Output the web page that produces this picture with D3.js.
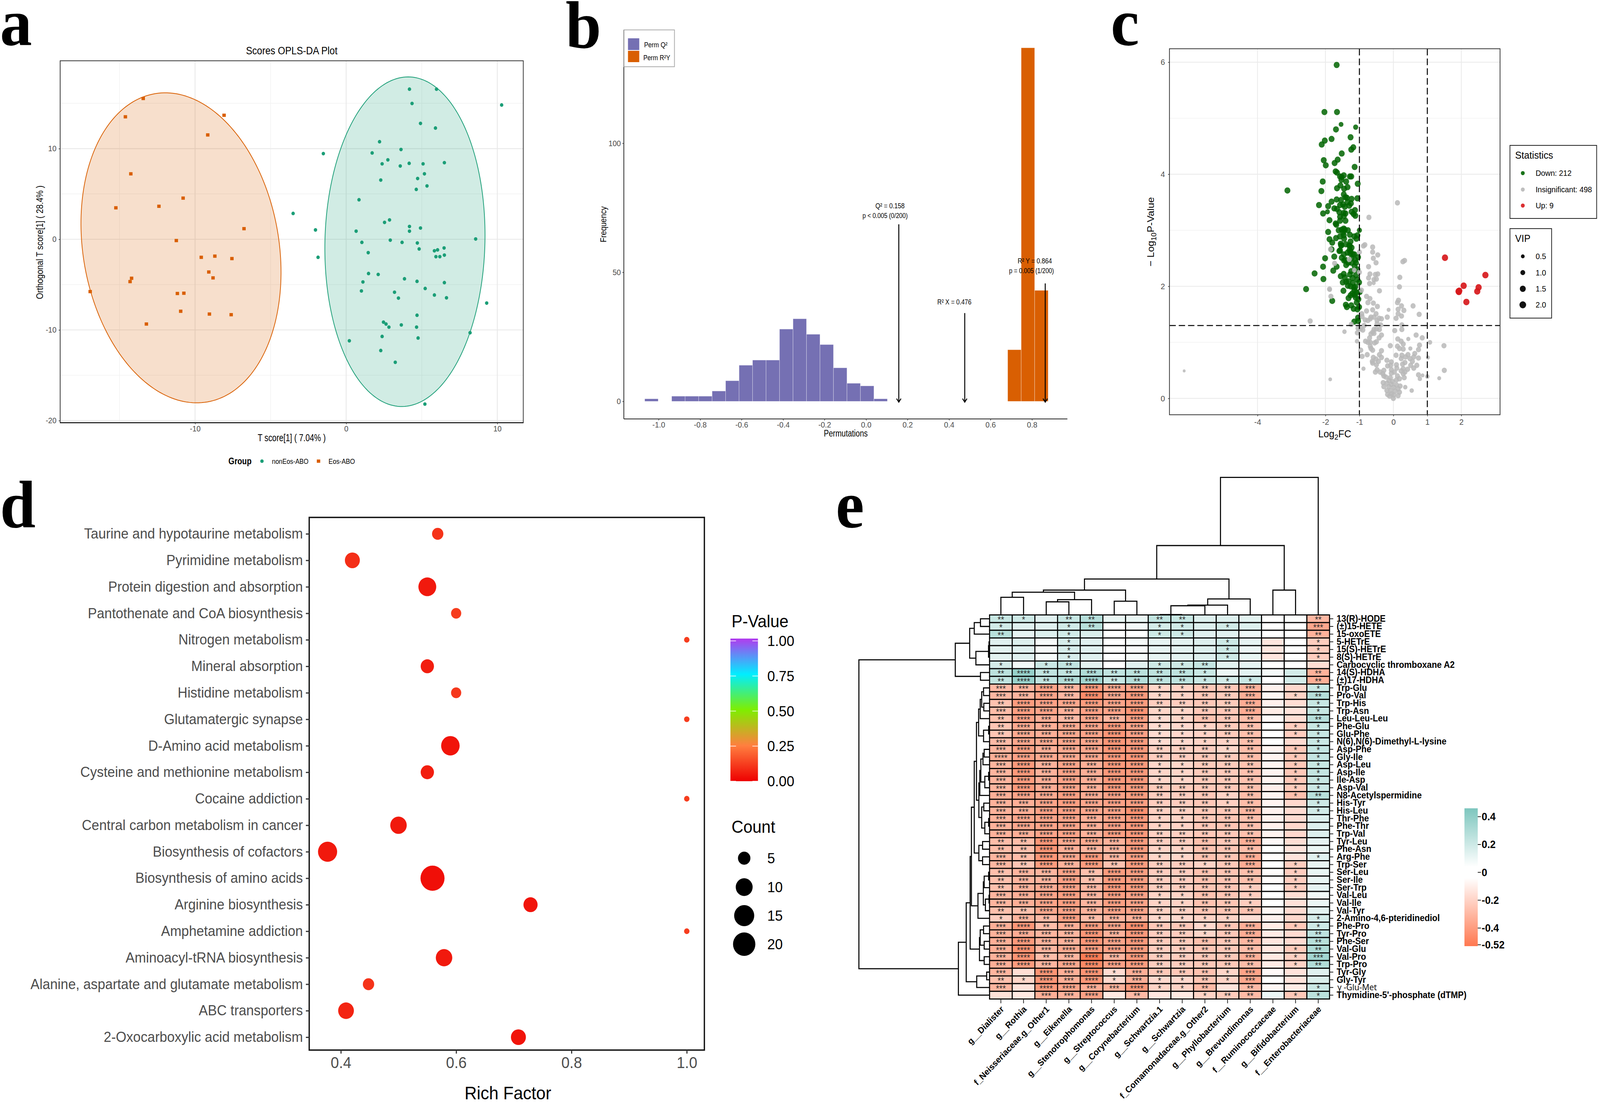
<!DOCTYPE html>
<html><head><meta charset="utf-8">
<script src="https://cdn.jsdelivr.net/npm/d3@7"></script>
<style>html,body{margin:0;padding:0;background:#fff;width:100%;height:100%;overflow:hidden}svg{display:block;width:100vw;height:100vh;font-family:"Liberation Sans",Arial,sans-serif}</style>
</head><body><svg id="fig" viewBox="0 0 4300 2825" preserveAspectRatio="none"></svg>
<script>
// ---------- panel a ----------
const scoresGreen=[[4.19,16.56],[5.98,16.56],[4.36,14.98],[10.29,14.81],[4.92,12.78],[5.91,12.27],[2.21,10.76],[3.63,9.9],[-1.51,9.45],[1.72,9.52],[2.76,8.76],[2.38,8.32],[3.58,8.08],[4.17,8.38],[5.09,8.32],[6.5,8.45],[5.18,7.22],[4.73,6.7],[2.29,6.53],[5.35,5.88],[4.64,5.5],[0.85,4.36],[-3.51,2.85],[2.87,2.13],[2.54,1.86],[4.19,1.41],[4.92,1.24],[-2.03,1.03],[0.66,0.89],[4.19,0.89],[8.57,0.03],[1.04,-0.34],[2.92,-0.1],[3.7,-0.34],[4.71,-0.41],[4.83,-1.07],[6.48,-0.96],[6.05,-1.17],[5.84,-1.27],[1.46,-1.48],[5.94,-1.92],[6.2,-1.92],[6.5,-1.75],[-1.86,-1.99],[1.48,-3.78],[2.12,-3.88],[3.86,-4.36],[4.69,-4.64],[1.11,-4.71],[6.5,-4.78],[5.23,-5.43],[1.01,-5.7],[3.2,-5.84],[5.84,-6.15],[3.46,-6.49],[6.64,-6.46],[9.3,-7.04],[4.69,-8.38],[2.47,-9.14],[2.64,-9.35],[3.65,-9.45],[2.83,-9.69],[4.66,-9.69],[8.2,-10.31],[2.38,-10.72],[4.76,-10.89],[0.21,-11.2],[2.29,-12.27],[3.25,-13.57],[5.21,-18.18]];
const scoresOrange=[[-13.43,15.53],[-14.61,13.51],[-8.08,13.68],[-9.16,11.51],[-14.25,7.22],[-10.79,4.54],[-12.39,3.64],[-15.24,3.47],[-6.76,1.17],[-11.24,-0.14],[-9.59,-1.99],[-8.69,-1.86],[-7.56,-2.13],[-9.09,-3.61],[-14.2,-4.3],[-8.81,-4.26],[-14.3,-4.67],[-16.94,-5.77],[-11.17,-5.98],[-10.74,-5.95],[-10.95,-7.94],[-9.05,-8.25],[-7.61,-8.32],[-13.22,-9.35]];
const ellipseOrange={cx:-10.93,cy:-0.945,rx:6.62,ry:17.1,rho:-0.157};
const ellipseGreen={cx:3.89,cy:-0.27,rx:5.3,ry:18.18,rho:0.04};
// ---------- panel b ----------
const permQ2Counts=[1,0,2,2,2,4,8,14,16,16,28,32,26,22,13,7,6,1];
const permQ2Start=-1.067;
const permR2Counts=[20,137,43];
const permR2Start=0.683;
const permBinWidth=0.065;
const permArrows=[{x:0.158,top:68.6},{x:0.476,top:34.2},{x:0.864,top:45.7}];
// ---------- panel c ----------
const volcanoDown=[[-1.67,5.95],[-2.03,5.11],[-1.66,5.11],[-1.54,4.89,.95],[-1.11,4.84,1.1],[-1.69,4.8],[-1.26,4.66],[-2.02,4.6],[-1.82,4.63],[-2.11,4.53],[-1.18,4.48],[-1.24,4.44],[-1.52,4.37],[-1.64,4.26],[-1.73,4.2],[-2.05,4.25],[-1.99,4.16],[-1.14,4.13],[-1.7,4.05],[-1.66,4.03],[-1.57,3.96],[-1.46,3.98],[-1.52,3.95],[-1.28,3.96],[-1.24,3.96],[-2.08,3.87],[-1.39,3.87],[-1.53,3.9],[-1.05,3.83],[-1.56,3.8],[-1.35,3.77],[-1.66,3.75],[-1.45,3.74],[-3.12,3.71],[-2.12,3.7],[-1.46,3.64],[-1.41,3.59],[-1.37,3.58],[-1.67,3.55],[-1.54,3.54],[-1.23,3.56],[-1.06,3.57],[-1.82,3.51],[-1.35,3.5],[-1.25,3.48],[-2.19,3.45],[-1.92,3.43],[-1.57,3.45],[-1.48,3.46],[-1.43,3.42],[-1.3,3.44],[-1.74,3.39],[-1.66,3.38],[-1.13,3.36],[-1.23,3.33],[-1.94,3.33,1],[-2.07,3.3],[-1.59,3.32],[-1.41,3.3],[-1.46,3.31],[-1.17,3.29],[-1.12,3.26],[-1.88,3.18],[-1.57,3.24],[-1.46,3.25],[-1.7,3.12],[-1.68,3.1],[-1.57,3.17],[-1.41,3.17],[-1,3,1.1],[-1.92,2.97],[-1.46,3.03],[-1.61,3],[-1.52,3.01],[-1.43,3.01],[-1.34,3],[-1.48,2.96],[-1.57,2.89],[-1.46,2.91],[-1.28,2.92],[-1.15,2.89],[-1.06,2.91],[-1.09,2.85],[-1.88,2.84],[-1.69,2.86],[-1.45,2.85],[-1.8,2.78],[-1.26,2.8],[-1.55,2.76],[-1.53,2.73],[-1.3,2.73],[-1.23,2.69],[-1.82,2.66],[-1.29,2.65],[-1.57,2.64],[-1.27,2.59],[-2.01,2.5],[-1.74,2.53],[-1.46,2.57],[-1.19,2.57],[-1.59,2.63],[-1.54,2.73],[-1.28,2.72],[-1.26,2.63],[-1.15,2.57],[-1.52,2.51],[-1.41,2.47],[-1.23,2.5],[-1.12,2.47],[-1.04,2.52],[-1.1,2.42],[-1.39,2.38],[-1.14,2.36],[-1.67,2.35],[-2.07,2.35],[-1.77,2.28],[-1.24,2.27],[-1.46,2.22],[-2.32,2.23],[-1.55,2.18],[-1.1,2.2],[-1.28,2.21],[-2.06,2.13],[-1.06,2.12],[-1.01,2.07],[-1.32,2.09],[-1.49,2.07],[-1.39,2.08],[-1.19,2.06],[-1.34,2.01],[-1.12,1.99],[-2.57,1.95],[-1.47,1.92],[-1.15,1.93],[-0.99,1.9],[-1.08,1.89],[-1.21,1.87],[-1.14,1.85],[-1.26,1.84],[-1.11,1.8],[-1.32,1.79],[-1.8,1.74],[-1.08,1.71],[-1.4,1.67],[-1.24,1.66],[-1.37,1.63],[-1.01,1.63],[-1.17,1.6],[-1.06,1.59],[-1.04,1.44],[-1.15,1.37],[-1.04,1.38],[-1.23,2.42],[-1.45,2.46],[-1.33,2.42],[-1.43,2.16],[-1.2,2.15],[-1.26,2],[-1.16,1.98],[-1.03,1.77],[-1.06,2.3],[-1.35,2.6],[-1.4,2.75]];
const volcanoInsig=[[-0.84,2.74],[-0.88,2.72],[-0.61,2.7],[-0.61,2.61],[-1,2.61],[-0.46,2.56],[-0.59,2.5],[-0.51,2.42],[-0.73,2.35],[0.33,2.46],[0.28,2.44],[-1,2.25],[-0.69,2.22],[-0.46,2.22],[-0.53,2.21],[-0.73,2.15],[-0.5,2.13],[-0.57,2.12],[0.19,2.16],[-0.7,2.05],[-0.58,2.06,.7],[0.18,1.99],[-1.88,1.95],[-0.41,1.92],[-0.94,1.93],[-1.84,1.82],[-0.79,1.82],[-0.69,1.78],[-0.75,1.71],[-0.59,1.7],[0.15,1.75],[0.12,1.71],[-0.47,1.64],[0.58,1.65],[0.24,1.65],[0.14,1.59],[0.31,1.57],[-0.14,1.58,.6],[-0.61,1.58],[-0.79,1.56],[0.76,1.5],[0.14,1.51],[0.24,1.47],[-0.51,1.51],[-0.93,1.51],[-0.92,1.46],[-0.18,1.45],[0.08,1.43],[-2.45,1.38],[-0.66,1.45],[-0.57,1.45],[-0.83,1.4],[-0.75,1.39],[-0.68,1.42],[-0.48,1.39],[-0.42,1.43],[-0.35,1.42],[-0.48,1.33],[-0.37,1.31],[-0.86,1.3],[-1.24,1.32],[0.25,1.31],[0.25,1.23],[0.04,1.21],[-1.04,1.25],[-0.9,1.22],[-0.97,1.24],[-1.44,1.19,.8],[-1.06,1.17],[-0.57,1.23],[-0.61,1.18],[-0.41,1.23],[-0.5,1.24],[-0.66,1.15],[-0.57,1.16],[-0.35,1.13],[0.67,1.13],[0.85,1.08],[-0.7,1.08],[-0.42,1.08],[0.13,1.06],[0.44,1.06,.7],[-0.5,1.01],[-0.82,1.02],[-0.75,1],[-0.68,1],[-1.07,1.02,.8],[0.23,1.02],[-0.55,0.99],[0.29,0.97],[1.08,1,.8],[-0.09,0.94],[0.77,0.95],[1.49,0.94],[0.12,0.93],[-0.68,0.93],[0.18,0.89],[0.74,0.87],[0.5,0.89,.7],[0.29,0.88],[-0.61,0.86],[-0.66,0.89],[-0.96,0.86],[-0.35,0.85],[-0.77,0.78],[-0.92,0.75],[0.63,0.8],[-0.41,0.78],[0.08,0.77],[0.25,0.77],[0.43,0.78],[0.36,0.74],[1.02,0.73,.6],[-0.59,0.73],[0.74,0.72],[0.23,0.71],[0.6,0.74],[0.49,0.71],[-0.51,0.7],[-0.35,0.73],[-0.62,0.66],[-0.44,0.66],[-0.19,0.68],[-0.06,0.65],[-0.61,0.63],[0.56,0.66],[0.34,0.64],[0.27,0.61],[-0.5,0.6],[0.09,0.6],[0.51,0.59],[0.69,0.59],[-0.17,0.58],[-0.08,0.59],[0.6,0.54],[0.1,0.54],[-0.88,0.53,.7],[-0.48,0.51],[-0.28,0.5],[0.42,0.52],[0.29,0.53],[-0.53,0.47],[-0.39,0.47],[-0.06,0.51],[0.23,0.49],[0.34,0.47],[0.03,0.47],[0.74,0.42],[0.86,0.41,.5],[-0.06,0.45],[-0.31,0.44],[0.29,0.44],[1,0.39,.8],[1.35,0.36,.6],[1.5,0.5],[0.78,0.35,.8],[-1.86,0.34,.5],[-0.28,0.4],[-0.22,0.38],[0.32,0.37],[0.12,0.4],[0.09,0.33],[0.18,0.35],[-0.09,0.37],[-0.3,0.28],[-0.13,0.32],[-0.02,0.3],[-0.19,0.27],[-0.28,0.21],[0.2,0.22],[0.09,0.24],[-0.06,0.25],[0.35,0.2,.8],[0.54,0.14,.8],[-0.13,0.21],[0.01,0.2],[0.14,0.17],[-0.19,0.14],[-0.08,0.14],[0.05,0.13],[0.18,0.11],[-0.17,0.07],[-0.06,0.08],[0.01,0.06],[0.14,0.05],[0,0],[-0.11,0.04],[-6.16,0.49,.1],[0.12,3.49],[-0.72,3.23],[-1.85,2.66],[-1.73,2.41],[-1.3,2.48],[-1.15,2.29,.9],[-1.87,1.94,.7]];
const volcanoUp=[[1.52,2.51],[2.71,2.2],[2.07,2.01],[2.51,1.98],[2.47,1.91],[1.92,1.91],[1.94,1.92],[1.93,1.9],[2.15,1.72]];
const vipLevels=[0.5,1,1.5,2];
const statLabels=["Down: 212","Insignificant: 498","Up: 9"];
// ---------- panel d ----------
const pathways=["Taurine and hypotaurine metabolism","Pyrimidine metabolism","Protein digestion and absorption","Pantothenate and CoA biosynthesis","Nitrogen metabolism","Mineral absorption","Histidine metabolism","Glutamatergic synapse","D-Amino acid metabolism","Cysteine and methionine metabolism","Cocaine addiction","Central carbon metabolism in cancer","Biosynthesis of cofactors","Biosynthesis of amino acids","Arginine biosynthesis","Amphetamine addiction","Aminoacyl-tRNA biosynthesis","Alanine, aspartate and glutamate metabolism","ABC transporters","2-Oxocarboxylic acid metabolism"];
const richFactor=[.568,.42,.55,.6,1,.55,.6,1,.59,.55,1,.5,.377,.559,.729,1,.579,.448,.409,.708];
const pathCount=[5,9,13,4,1,7,4,1,14,7,1,11,15,24,8,1,11,5,10,9];
const pathP=[.10,.09,.05,.12,.12,.06,.11,.12,.04,.06,.12,.05,.05,.03,.04,.12,.05,.10,.07,.04];
const countLevels=[5,10,15,20];
const pTicks=[0,.25,.5,.75,1];
const pColors=["#EE0000","#FF7F3F","#7FEE00","#00EEFF","#B23AEE"];
// ---------- panel e ----------
const microbes=["g__Dialister","g__Rothia","f_Neisseriaceae.g_Other1","g__Eikenella","g__Stenotrophomonas","g__Streptococcus","g__Corynebacterium","g__Schwartzia.1","g__Schwartzia","f_Comamonadaceae.g_Other2","g__Phyllobacterium","g__Brevundimonas","f__Ruminococcaceae","g__Bifidobacterium","f__Enterobacteriaceae"];
const metabolites=["13(R)-HODE","(±)15-HETE","15-oxoETE","5-HETrE","15(S)-HETrE","8(S)-HETrE","Carbocyclic thromboxane A2","14(S)-HDHA","(±)17-HDHA","Trp-Glu","Pro-Val","Trp-His","Trp-Asn","Leu-Leu-Leu","Phe-Glu","Glu-Phe","N(6),N(6)-Dimethyl-L-lysine","Asp-Phe","Gly-Ile","Asp-Leu","Asp-Ile","Ile-Asp","Asp-Val","N8-Acetylspermidine","His-Tyr","His-Leu","Thr-Phe","Phe-Thr","Trp-Val","Tyr-Leu","Phe-Asn","Arg-Phe","Trp-Ser","Ser-Leu","Ser-Ile","Ser-Trp","Val-Leu","Val-Ile","Val-Tyr","2-Amino-4,6-pteridinediol","Phe-Pro","Tyr-Pro","Phe-Ser","Val-Glu","Val-Pro","Trp-Pro","Tyr-Gly","Gly-Tyr","γ -Glu-Met","Thymidine-5'-phosphate (dTMP)"];
const corr=[
[.22,.2,.14,.22,.28,.11,.11,.24,.22,.15,.15,.13,.03,.05,-.3],
[.19,.14,.14,.19,.27,.02,.08,.18,.19,.15,.19,.15,-.03,.02,-.36],
[.27,.12,.15,.19,.16,.03,.03,.2,.2,.14,.14,.09,0,-.04,-.32],
[.14,.15,.07,.17,.14,.02,.07,.12,.13,.15,.2,.12,-.13,.01,-.22],
[.13,.14,.07,.17,.14,.02,.06,.12,.13,.15,.2,.1,-.13,.01,-.22],
[.13,.14,.07,.17,.14,0,.07,.12,.13,.15,.2,.11,-.13,.01,-.22],
[.18,.08,.21,.24,.13,.02,.14,.2,.2,.23,.13,.12,-.03,.01,-.16],
[.26,.38,.24,.24,.3,.24,.26,.25,.25,.21,.1,.13,.07,.18,-.32],
[.24,.37,.24,.29,.34,.22,.28,.25,.25,.21,.18,.21,.01,.18,-.33],
[-.29,-.31,-.37,-.31,-.41,-.35,-.36,-.19,-.2,-.24,-.24,-.32,-.09,-.18,.21],
[-.3,-.31,-.37,-.3,-.46,-.36,-.41,-.19,-.2,-.24,-.23,-.33,-.07,-.2,.28],
[-.26,-.4,-.38,-.36,-.4,-.37,-.4,-.22,-.22,-.24,-.23,-.34,-.09,-.16,.22],
[-.28,-.39,-.37,-.32,-.38,-.37,-.43,-.19,-.19,-.24,-.24,-.34,-.11,-.14,.22],
[-.27,-.38,-.33,-.29,-.36,-.3,-.39,-.17,-.19,-.26,-.24,-.28,-.06,-.16,.28],
[-.25,-.35,-.33,-.35,-.37,-.41,-.37,-.17,-.18,-.2,-.23,-.27,-.03,-.22,.22],
[-.25,-.35,-.33,-.35,-.37,-.42,-.38,-.17,-.18,-.2,-.23,-.27,-.03,-.22,.22],
[-.29,-.36,-.35,-.36,-.36,-.42,-.4,-.17,-.18,-.2,-.2,-.27,-.03,-.17,.21],
[-.31,-.39,-.33,-.35,-.36,-.42,-.41,-.21,-.21,-.22,-.19,-.28,-.08,-.24,.23],
[-.33,-.38,-.35,-.35,-.36,-.41,-.42,-.22,-.22,-.24,-.23,-.28,-.08,-.24,.23],
[-.31,-.41,-.32,-.37,-.33,-.41,-.41,-.19,-.19,-.23,-.23,-.26,-.08,-.24,.22],
[-.31,-.41,-.32,-.37,-.33,-.41,-.41,-.19,-.19,-.23,-.23,-.26,-.08,-.24,.23],
[-.31,-.4,-.33,-.37,-.33,-.41,-.41,-.19,-.19,-.23,-.23,-.26,-.08,-.24,.22],
[-.31,-.41,-.34,-.37,-.33,-.41,-.4,-.23,-.23,-.24,-.24,-.27,-.1,-.23,.21],
[-.33,-.37,-.35,-.39,-.34,-.38,-.4,-.22,-.22,-.24,-.2,-.28,-.08,-.27,.27],
[-.32,-.33,-.37,-.39,-.36,-.38,-.39,-.22,-.22,-.24,-.21,-.28,-.08,-.18,.2],
[-.32,-.33,-.38,-.38,-.36,-.37,-.44,-.21,-.21,-.24,-.24,-.3,-.09,-.17,.19],
[-.32,-.36,-.37,-.37,-.33,-.37,-.41,-.2,-.2,-.24,-.25,-.27,-.09,-.17,.15],
[-.32,-.36,-.37,-.37,-.33,-.38,-.41,-.2,-.2,-.24,-.25,-.27,-.09,-.18,.15],
[-.32,-.33,-.37,-.37,-.32,-.39,-.41,-.21,-.21,-.24,-.24,-.27,-.08,-.18,.15],
[-.28,-.28,-.42,-.35,-.35,-.32,-.4,-.22,-.22,-.27,-.24,-.33,-.06,-.16,.12],
[-.28,-.27,-.43,-.33,-.31,-.31,-.4,-.2,-.2,-.26,-.25,-.28,-.03,-.14,.11],
[-.31,-.28,-.42,-.36,-.41,-.31,-.39,-.19,-.19,-.26,-.25,-.34,-.05,-.14,.14],
[-.3,-.25,-.4,-.32,-.4,-.26,-.4,-.22,-.22,-.2,-.24,-.34,-.03,-.22,.11],
[-.27,-.31,-.31,-.37,-.27,-.4,-.39,-.22,-.22,-.26,-.25,-.27,-.05,-.22,.11],
[-.27,-.31,-.31,-.38,-.27,-.4,-.39,-.22,-.22,-.26,-.25,-.27,-.05,-.22,.11],
[-.27,-.32,-.34,-.38,-.3,-.41,-.4,-.22,-.22,-.25,-.25,-.22,-.03,-.22,.12],
[-.31,-.33,-.37,-.39,-.31,-.39,-.38,-.2,-.2,-.26,-.25,-.22,-.03,-.16,.09],
[-.31,-.33,-.37,-.39,-.31,-.39,-.37,-.2,-.2,-.26,-.25,-.22,-.03,-.15,.1],
[-.27,-.27,-.36,-.37,-.32,-.37,-.37,-.21,-.21,-.25,-.25,-.26,-.07,-.17,.13],
[-.22,-.31,-.29,-.39,-.28,-.31,-.32,-.18,-.18,-.2,-.2,-.16,-.09,-.18,.18],
[-.33,-.42,-.28,-.33,-.4,-.37,-.45,-.24,-.24,-.18,-.25,-.33,-.11,-.24,.2],
[-.32,-.34,-.31,-.31,-.42,-.32,-.41,-.22,-.22,-.19,-.24,-.34,-.11,-.17,.25],
[-.33,-.41,-.32,-.32,-.42,-.37,-.41,-.23,-.23,-.27,-.24,-.3,-.13,-.17,.27],
[-.33,-.44,-.31,-.35,-.4,-.38,-.4,-.22,-.22,-.25,-.24,-.28,-.13,-.23,.3],
[-.32,-.43,-.28,-.31,-.52,-.31,-.41,-.22,-.22,-.24,-.24,-.33,-.12,-.21,.34],
[-.33,-.4,-.31,-.36,-.47,-.38,-.4,-.22,-.22,-.24,-.24,-.28,-.11,-.2,.29],
[-.31,-.16,-.43,-.33,-.43,-.17,-.33,-.24,-.24,-.26,-.19,-.37,-.06,-.14,.14],
[-.27,-.19,-.42,-.33,-.42,-.18,-.33,-.18,-.18,-.25,-.2,-.36,-.03,-.14,.16],
[-.31,-.14,-.41,-.37,-.34,-.32,-.42,-.2,-.2,-.29,-.14,-.29,-.07,-.11,.21],
[-.15,-.12,-.33,-.32,-.38,-.12,-.29,-.13,-.12,-.2,-.23,-.29,.1,-.24,.26]];
const starCounts=["210220022000002","100120011010003","200100011000002","000100000010001","000100000010001","000100000010001","101200011200000","242232222100002","242342222111002","334344411223001","334344411223012","244444422223001","344344411223001","243343411222002","243444411122011","243444411122011","344444411112001","343444422212011","444444422222011","343434411222011","343434411222011","343434411222011","343434422222011","344444422212012","334444422212001","334444422223001","344434411222000","344434411222000","334434422222000","224443422223000","224333411222000","324443411223001","324342422123010","233424422222010","233424422222010","234434422221010","334434411221000","334434411221000","224434422222000","132423311110001","342344422123011","333343422123002","343344422222002","343444422222012","342343422223013","343444422222012","304341322213000","214341311213000","304433411202001","003340200122011"];
// dendrograms: [merge height, child, child]; a number is a leaf index
const colTree=[351,[176.7,[91,[62.7,[57.3,[44.3,0,1],[38.3,[32.7,2,3],4]],[34.3,5,6]],[40,[24.3,[22.7,[0,7,8],9],10],11]],[62.7,12,13]],14];
const rowTree=[351.7,[92.7,[54,[41.7,[25,0,1],2],[37.3,[3.3,[2,3,4],5],6]],[25,7,8]],[84.3,[63.3,[52.7,[49.3,[41.7,[35.7,[30,[25.7,[21.7,[16.7,9,10],[16,11,12]],13],[16.7,[3,14,15],16]],[29.3,[26.7,[24,[18.3,[15,17,18],19],[13.3,[3,20,21],22]],23],[21.7,[16,24,25],[13.3,[3,26,27],28]]]],[29.3,[19.3,29,30],[19.3,31,32]]],[31.7,[17.3,[15,[3,33,34],35],[11.7,[2,36,37],38]],39]],[27.7,[25.7,[16.7,40,41],[15,42,43]],[15,44,45]]],[35,[8.3,46,47],48]],49]];
const corrTicks=[.4,.2,0,-.2,-.4,-.52];
const corrLabels=["0.4","0.2","0","-0.2","-0.4","-0.52"];

// ======================= drawing =======================
const svg=d3.select("#fig");
const GREEN="#1B9E77",ORANGE="#D95F02",PURPLE="#7570B3";
function txt(g,x,y,s,o={}){
  const t=g.append("text").attr("x",x).attr("y",y).attr("font-size",o.size||20).attr("fill",o.fill||"#000")
    .attr("text-anchor",o.anchor||"start").attr("dy",o.dy===undefined?".35em":o.dy).text(s);
  if(o.weight)t.attr("font-weight",o.weight);
  if(o.family)t.attr("font-family",o.family);
  if(o.len)t.attr("textLength",o.len).attr("lengthAdjust","spacingAndGlyphs");
  if(o.rot!==undefined)t.attr("transform",`rotate(${o.rot} ${x} ${y})`);
  return t;
}
function styleAxis(g,size,fill,stroke,width){
  g.attr("font-family",null).attr("font-size",size);
  g.select(".domain").remove();
  g.selectAll(".tick text").attr("fill",fill);
  g.selectAll(".tick line").attr("stroke",stroke).attr("stroke-width",width);
  return g;
}
const hy=s=>String(s).replace("−","-");
function letter(x,y,s){txt(svg,x,y,s,{size:172,weight:"bold",family:"'Liberation Serif',serif",dy:0});}
letter(0,115,"a");letter(1520,122,"b");letter(2985,115,"c");letter(0,1349,"d");letter(2246,1349,"e");

// ---- a ----
(function(){
 const g=svg.append("g");
 const L=161.7,R=1406.3,T=155.5,B=1081.8;
 const x=d3.scaleLinear([-10,10],[524.2,1336.4]),y=d3.scaleLinear([-20,10],[1076.2,380.3]);
 [-15,-5,5].forEach(v=>g.append("line").attr("x1",x(v)).attr("x2",x(v)).attr("y1",T).attr("y2",B).attr("stroke","#F2F2F2").attr("stroke-width",1.5));
 [15,5,-5,-15].forEach(v=>g.append("line").attr("y1",y(v)).attr("y2",y(v)).attr("x1",L).attr("x2",R).attr("stroke","#F2F2F2").attr("stroke-width",1.5));
 [-10,0,10].forEach(v=>g.append("line").attr("x1",x(v)).attr("x2",x(v)).attr("y1",T).attr("y2",B).attr("stroke","#E8E8E8").attr("stroke-width",2.2));
 [10,0,-10,-20].forEach(v=>g.append("line").attr("y1",y(v)).attr("y2",y(v)).attr("x1",L).attr("x2",R).attr("stroke","#E8E8E8").attr("stroke-width",2.2));
 const ell=e=>d3.line().x(t=>x(e.cx+e.rx*Math.cos(t))).y(t=>y(e.cy+e.ry*(e.rho*Math.cos(t)+Math.sqrt(1-e.rho*e.rho)*Math.sin(t))))(d3.range(0,6.3,.03))+"Z";
 g.append("path").attr("d",ell(ellipseOrange)).attr("fill",ORANGE).attr("fill-opacity",.2).attr("stroke",ORANGE).attr("stroke-width",2);
 g.append("path").attr("d",ell(ellipseGreen)).attr("fill",GREEN).attr("fill-opacity",.2).attr("stroke",GREEN).attr("stroke-width",2);
 g.selectAll(".gp").data(scoresGreen).join("circle").attr("cx",d=>x(d[0])).attr("cy",d=>y(d[1])).attr("r",4.6).attr("fill",GREEN);
 g.selectAll(".op").data(scoresOrange).join("rect").attr("x",d=>x(d[0])-4.6).attr("y",d=>y(d[1])-4.2).attr("width",9.2).attr("height",8.4).attr("fill",ORANGE);
 g.append("rect").attr("x",L).attr("y",T).attr("width",R-L).attr("height",B-T).attr("fill","none").attr("stroke","#333").attr("stroke-width",2);
 g.append("line").attr("x1",L).attr("x2",R).attr("y1",B).attr("y2",B).attr("stroke","#111").attr("stroke-width",2.5);
 const ax=g.append("g").attr("transform",`translate(0,${B})`).call(d3.axisBottom(x).tickValues([-10,0,10]).tickFormat(hy).tickSize(4).tickPadding(4));
 styleAxis(ax,20,"#4d4d4d","#333",1.5);
 const ay=g.append("g").attr("transform",`translate(${L},0)`).call(d3.axisLeft(y).tickValues([10,0,-10,-20]).tickFormat(hy).tickSize(4).tickPadding(6));
 styleAxis(ay,20,"#4d4d4d","#333",1.5);
 txt(g,784,130,"Scores OPLS-DA Plot",{size:27,anchor:"middle",len:246});
 txt(g,784,1120,"T score[1] ( 7.04% )",{size:25,anchor:"middle",len:183});
 txt(g,107,620,"Orthogonal T score[1] ( 28.4% )",{size:25,anchor:"middle",len:291,rot:-90});
 txt(g,645,1180,"Group",{size:23,anchor:"middle",weight:"bold",len:62});
 g.append("circle").attr("cx",704).attr("cy",1180).attr("r",4.6).attr("fill",GREEN);
 txt(g,731,1180,"nonEos-ABO",{size:19,len:98});
 g.append("rect").attr("x",851.4).attr("y",1175.8).attr("width",9.2).attr("height",8.4).attr("fill",ORANGE);
 txt(g,883,1180,"Eos-ABO",{size:19,len:71});
})();

// ---- b ----
(function(){
 const g=svg.append("g");
 const x=d3.scaleLinear([-1,.8],[1770,2773.4]),y=d3.scaleLinear([0,100],[1027,366.6]);
 const bars=(arr,start,col)=>g.append("g").selectAll("rect").data(arr).join("rect")
   .attr("x",(d,i)=>x(start+i*permBinWidth)).attr("width",(d,i)=>x(start+(i+1)*permBinWidth)-x(start+i*permBinWidth))
   .attr("y",d=>y(d)).attr("height",d=>y(0)-y(d)).attr("fill",col).attr("stroke","#fff").attr("stroke-opacity",d=>d?.55:0).attr("stroke-width",1);
 bars(permQ2Counts,permQ2Start,PURPLE);
 bars(permR2Counts,permR2Start,ORANGE);
 const yAxisX=1676.6,xAxisY=1072;
 g.append("line").attr("x1",yAxisX).attr("x2",yAxisX).attr("y1",76.5).attr("y2",xAxisY).attr("stroke","#222").attr("stroke-width",2);
 g.append("line").attr("x1",yAxisX).attr("x2",2868.6).attr("y1",xAxisY).attr("y2",xAxisY).attr("stroke","#222").attr("stroke-width",2);
 const ax=g.append("g").attr("transform",`translate(0,${xAxisY})`).call(d3.axisBottom(x).tickValues(d3.range(-5,5).map(d=>d/5)).tickFormat(d=>d3.format(".1f")(d).replace("−","-")).tickSize(4).tickPadding(4));
 styleAxis(ax,20,"#4d4d4d","#333",1.5);
 const ay=g.append("g").attr("transform",`translate(${yAxisX},0)`).call(d3.axisLeft(y).tickValues([0,50,100]).tickSize(4).tickPadding(4));
 styleAxis(ay,20,"#4d4d4d","#333",1.5);
 permArrows.forEach(a=>{
  g.append("line").attr("x1",x(a.x)).attr("x2",x(a.x)).attr("y1",y(a.top)).attr("y2",y(0)+1).attr("stroke","#000").attr("stroke-width",2.6);
  g.append("path").attr("d",`M${x(a.x)-6},${y(0)-7}L${x(a.x)},${y(0)+2}L${x(a.x)+6},${y(0)-7}`).attr("fill","none").attr("stroke","#000").attr("stroke-width",2.4);
 });
 txt(g,2352.6,526,"Q² = 0.158",{size:19,len:78.5});
 txt(g,2318,551,"p < 0.005 (0/200)",{size:19,len:121.5});
 txt(g,2519,772,"R² X = 0.476",{size:19,len:91.6});
 txt(g,2735,667,"R² Y = 0.864",{size:19,len:92});
 txt(g,2712,692.6,"p = 0.005 (1/200)",{size:19,len:120.5});
 txt(g,2273,1109,"Permutations",{size:23,anchor:"middle",len:118});
 txt(g,1621,574,"Frequency",{size:23,anchor:"middle",len:92,rot:-90});
 g.append("rect").attr("x",1677).attr("y",76.5).attr("width",135.6).attr("height",94.2).attr("fill","#fff").attr("stroke","#aaa").attr("stroke-width",2);
 g.append("rect").attr("x",1687.7).attr("y",98).attr("width",30.3).attr("height",30).attr("fill",PURPLE);
 g.append("rect").attr("x",1687.7).attr("y",130).attr("width",30.3).attr("height",29).attr("fill",ORANGE);
 txt(g,1731,115,"Perm Q²",{size:18,len:63});
 txt(g,1729,148,"Perm R²Y",{size:18,len:72});
})();

// ---- c ----
(function(){
 const g=svg.append("g");
 const L=3142.9,R=4031.4,T=124.7,B=1061.3;
 const x=d3.scaleLinear([-4,2],[3379.6,3927.2]),y=d3.scaleLinear([0,6],[1019.4,159.1]);
 const vip=d3.scaleLinear(vipLevels,[5,6.5,8,9]);
 [1,3,5].forEach(v=>g.append("line").attr("y1",y(v)).attr("y2",y(v)).attr("x1",L).attr("x2",R).attr("stroke","#F2F2F2").attr("stroke-width",1.5));
 [-4,-2,0,2].forEach(v=>g.append("line").attr("x1",x(v)).attr("x2",x(v)).attr("y1",T).attr("y2",B).attr("stroke","#EBEBEB").attr("stroke-width",2.2));
 [0,2,4,6].forEach(v=>g.append("line").attr("y1",y(v)).attr("y2",y(v)).attr("x1",L).attr("x2",R).attr("stroke","#EBEBEB").attr("stroke-width",2.2));
 const dots=(arr,col,op,dv)=>g.append("g").selectAll("circle").data(arr).join("circle").attr("cx",d=>x(d[0])).attr("cy",d=>y(d[1])).attr("r",d=>vip(d[2]===undefined?dv:d[2])).attr("fill",col).attr("fill-opacity",op);
 dots(volcanoDown,"#006400",.85,1.5);
 dots(volcanoInsig,"#B8B8B8",.85,1.15);
 dots(volcanoUp,"#D7191C",.92,1.7);
 const dash=g.append("g").attr("stroke","#000").attr("stroke-width",2.6).attr("stroke-dasharray","17 8");
 [-1,1].forEach(v=>dash.append("line").attr("x1",x(v)).attr("x2",x(v)).attr("y1",T).attr("y2",B));
 dash.append("line").attr("x1",L).attr("x2",R).attr("y1",y(1.3)).attr("y2",y(1.3));
 g.append("rect").attr("x",L).attr("y",T).attr("width",R-L).attr("height",B-T).attr("fill","none").attr("stroke","#333").attr("stroke-width",2);
 const ax=g.append("g").attr("transform",`translate(0,${B})`).call(d3.axisBottom(x).tickValues([-4,-2,-1,0,1,2]).tickFormat(hy).tickSize(4).tickPadding(7));
 styleAxis(ax,21,"#4d4d4d","#333",1.5);
 const ay=g.append("g").attr("transform",`translate(${L},0)`).call(d3.axisLeft(y).tickValues([0,2,4,6]).tickFormat(d3.format("d")).tickSize(4).tickPadding(8));
 styleAxis(ay,21,"#4d4d4d","#333",1.5);
 const xt=txt(g,3587,1110,"Log",{size:26,anchor:"middle"});
 xt.append("tspan").attr("dy",6).attr("font-size",19).text("2");xt.append("tspan").attr("dy",-6).text("FC");
 const yt=txt(g,3092,593,"− Log",{size:26,anchor:"middle",rot:-90});
 yt.append("tspan").attr("dy",6).attr("font-size",19).text("10");yt.append("tspan").attr("dy",-6).text("P-Value");
 // legends
 g.append("rect").attr("x",4058).attr("y",372).attr("width",233).attr("height",187).attr("fill","#fff").attr("stroke","#222").attr("stroke-width",2);
 txt(g,4072,397,"Statistics",{size:25.5});
 const cols=["#006400","#B8B8B8","#D7191C"],ys=[443,485,526];
 statLabels.forEach((s,i)=>{g.append("circle").attr("cx",4092.5).attr("cy",ys[i]).attr("r",5.2).attr("fill",cols[i]).attr("fill-opacity",.9);txt(g,4127,ys[i],s,{size:20.2});});
 g.append("rect").attr("x",4058).attr("y",585).attr("width",112).attr("height",229).attr("fill","#fff").attr("stroke","#222").attr("stroke-width",2);
 txt(g,4072,610,"VIP",{size:25.5});
 const vy=[656,697.5,739,780];
 vipLevels.forEach((v,i)=>{g.append("circle").attr("cx",4092.5).attr("cy",vy[i]).attr("r",vip(v)).attr("fill","#111");txt(g,4127,vy[i],d3.format(".1f")(v),{size:20.2});});
})();

// ---- d ----
(function(){
 const g=svg.append("g");
 const L=831,R=1893,T=1324,B=2687;
 const x=d3.scaleLinear([.4,1],[916,1845.7]),y=d3.scalePoint(pathways,[1366,2654]);
 const r=d3.scalePow().exponent(.5).domain([1,24]).range([7.3,32.3]);
 const col=d3.scaleLinear(pTicks,pColors);
 g.selectAll(".pt").data(pathways).join("circle").attr("cx",(d,i)=>x(richFactor[i])).attr("cy",d=>y(d)).attr("r",(d,i)=>r(pathCount[i])).attr("fill",(d,i)=>col(pathP[i]));
 g.append("rect").attr("x",L).attr("y",T).attr("width",R-L).attr("height",B-T).attr("fill","none").attr("stroke","#111").attr("stroke-width",3.5);
 const ax=g.append("g").attr("transform",`translate(0,${B})`).call(d3.axisBottom(x).tickValues([.4,.6,.8,1]).tickFormat(d3.format(".1f")).tickSize(9).tickPadding(9));
 styleAxis(ax,40,"#4d4d4d","#333",3);
 const ay=g.append("g").attr("transform",`translate(${L},0)`).call(d3.axisLeft(y).tickSize(9).tickPadding(8));
 styleAxis(ay,36.5,"#4d4d4d","#333",3);
 txt(g,1365,2797,"Rich Factor",{size:45.6,anchor:"middle"});
 txt(g,1966,1590,"P-Value",{size:44});
 const grad=svg.append("defs").append("linearGradient").attr("id","pgrad").attr("x1",0).attr("x2",0).attr("y1",1).attr("y2",0);
 pTicks.forEach((t,i)=>grad.append("stop").attr("offset",t).attr("stop-color",pColors[i]));
 const py=d3.scaleLinear([0,1],[1999,1640]);
 g.append("rect").attr("x",1963).attr("y",py(1)-6).attr("width",74).attr("height",py(0)-py(1)+6).attr("fill","url(#pgrad)");
 pTicks.forEach(t=>{
  g.append("line").attr("x1",1963).attr("x2",1978).attr("y1",py(t)).attr("y2",py(t)).attr("stroke","#fff").attr("stroke-width",1.5);
  g.append("line").attr("x1",2022).attr("x2",2037).attr("y1",py(t)).attr("y2",py(t)).attr("stroke","#fff").attr("stroke-width",1.5);
  txt(g,2062,py(t),d3.format(".2f")(t),{size:37.4});
 });
 txt(g,1966,2116,"Count",{size:44});
 const cy=[2196,2270,2343,2416];
 const lr=d3.scaleLinear(countLevels,[16.7,22.7,27,30]);
 countLevels.forEach((c,i)=>{g.append("circle").attr("cx",2000).attr("cy",cy[i]).attr("r",lr(c)).attr("fill","#000");txt(g,2062,cy[i],c,{size:37.4});});
})();

// ---- e ----
(function(){
 const g=svg.append("g");
 const x=d3.scaleBand(microbes,[2659.4,3573.2]),y=d3.scaleBand(metabolites,[1573.5,2556.3]);
 const col=d3.scaleLinear([-.53,-.04,.04,.46],["#FF7850","#FFFFFF","#FFFFFF","#7DC6BE"]);
 metabolites.forEach((m,i)=>microbes.forEach((c,j)=>{
  g.append("rect").attr("x",x(c)).attr("y",y(m)).attr("width",x.bandwidth()).attr("height",y.bandwidth()).attr("fill",col(corr[i][j])).attr("stroke","#000").attr("stroke-width",2.8);
  const n=+starCounts[i][j];
  if(n)txt(g,x(c)+x.bandwidth()/2,y(m)+y.bandwidth()/2+11,"*".repeat(n),{size:23,anchor:"middle",fill:"#333",dy:0});
 }));
 const ax=g.append("g").attr("transform",`translate(0,2556.3)`).call(d3.axisBottom(x).tickSize(11).tickSizeOuter(0));
 styleAxis(ax,22.5,"#000","#222",2);
 ax.selectAll(".tick text").attr("font-weight","bold").attr("text-anchor","end").attr("transform","translate(4,22) rotate(-45)").attr("y",0).attr("dy",".35em");
 const ay=g.append("g").attr("transform",`translate(3573.2,0)`).call(d3.axisRight(y).tickSize(10).tickPadding(9));
 styleAxis(ay,23,"#000","#222",2);
 ay.selectAll(".tick text").attr("font-weight","bold");
 ay.selectAll(".tick text").filter(d=>d.startsWith("γ")).attr("font-weight","normal").attr("font-family","'Open Sans',sans-serif").attr("font-size",22).attr("x",21);
 // dendrograms
 function dendro(tree,pos,hs,horizontal){
  const out=[];
  const walk=n=>{
   if(typeof n==="number")return{p:pos(n),h:0};
   const a=walk(n[1]),b=walk(n[2]),H=n[0];
   out.push(horizontal?`M${hs(a.h)},${a.p}H${hs(H)}V${b.p}H${hs(b.h)}`:`M${a.p},${hs(a.h)}V${hs(H)}H${b.p}V${hs(b.h)}`);
   return{p:(a.p+b.p)/2,h:H};
  };
  walk(tree);
  g.append("path").attr("d",out.join("")).attr("fill","none").attr("stroke","#000").attr("stroke-width",2.8);
 }
 dendro(colTree,i=>x(microbes[i])+x.bandwidth()/2,d3.scaleLinear([0,351],[1572.7,1221.7]),false);
 dendro(rowTree,i=>y(metabolites[i])+y.bandwidth()/2,d3.scaleLinear([0,351.7],[2660,2308.3]),true);
 // colour bar
 const cb=d3.scaleLinear([-.2,.2],[2303.5,2161]);
 const grad=svg.select("defs").append("linearGradient").attr("id","cgrad").attr("x1",0).attr("x2",0).attr("y1",1).attr("y2",0);
 [-.53,-.04,.04,.46].forEach(v=>grad.append("stop").attr("offset",(v+.53)/.99).attr("stop-color",col(v)));
 g.append("rect").attr("x",3935.7).attr("y",cb(.46)).attr("width",35.7).attr("height",cb(-.53)-cb(.46)).attr("fill","url(#cgrad)");
 corrTicks.forEach((v,i)=>{
  g.append("line").attr("x1",3971.4).attr("x2",3980).attr("y1",cb(v)).attr("y2",cb(v)).attr("stroke","#222").attr("stroke-width",2);
  txt(g,3982,cb(v),corrLabels[i],{size:27,weight:"bold"});
 });
})();
</script></body></html>
